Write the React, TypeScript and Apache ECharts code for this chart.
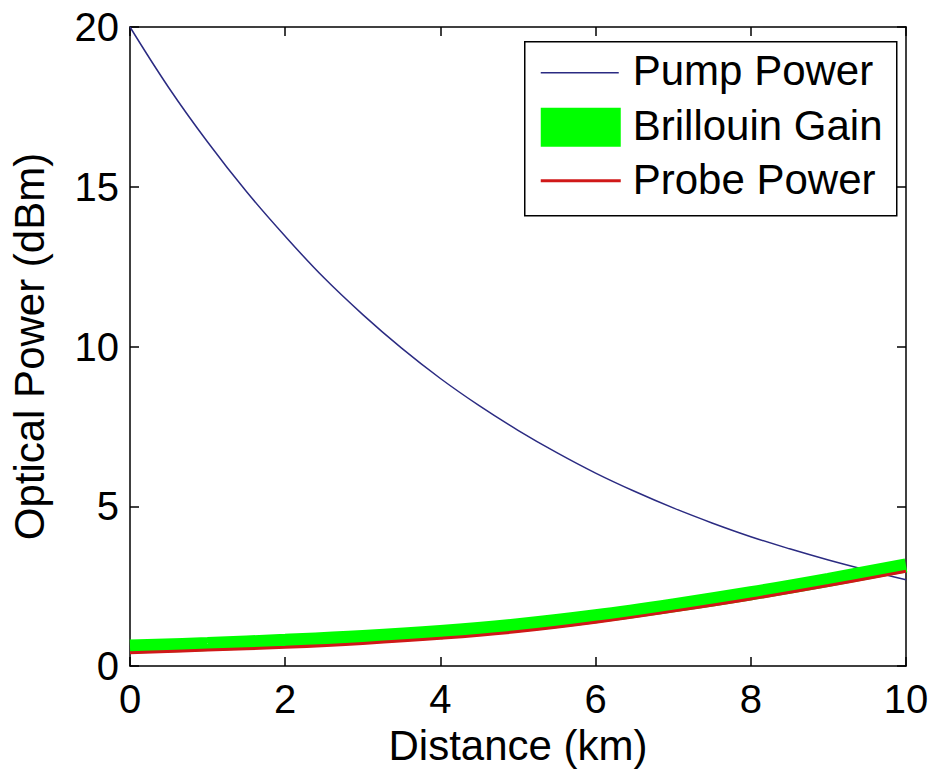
import React, { useEffect, useRef } from "react";
import * as echarts from "echarts";

const pumpDistanceKm = [0, 0.5, 1, 1.5, 2, 2.5, 3, 3.5, 4, 4.5, 5, 5.5, 6, 6.5, 7, 7.5, 8, 8.5, 9, 9.5, 10];
const pumpPowerDbm = [20, 18.1, 16.4, 14.85, 13.45, 12.15, 11.0, 9.95, 9.0, 8.15, 7.38, 6.68, 6.04, 5.47, 4.95, 4.48, 4.05, 3.67, 3.32, 3.0, 2.7];

const probeDistanceKm = [0, 1, 2, 3, 4, 5, 6, 7, 8, 9, 10];
const brillouinGainDbm = [0.61, 0.69, 0.79, 0.91, 1.07, 1.28, 1.56, 1.9, 2.28, 2.7, 3.15];
const probePowerDbm = [0.42, 0.5, 0.59, 0.71, 0.87, 1.08, 1.37, 1.72, 2.1, 2.52, 2.97];

const xTicks = { min: 0, max: 10, interval: 2 };
const yTicks = { min: 0, max: 20, interval: 5 };

const legendLabels = ["Pump Power", "Brillouin Gain", "Probe Power"];

const FONT = '"Liberation Sans", Arial, Helvetica, sans-serif';
const PUMP_COLOR = "#2b2b82";
const GAIN_COLOR = "#00ff00";
const PROBE_COLOR = "#d01818";

export default function App() {
  const ref = useRef<HTMLDivElement>(null);

  useEffect(() => {
    if (!ref.current) return;
    const chart = echarts.init(ref.current, undefined, { renderer: "svg" });

    const pair = (xs: number[], ys: number[]) => xs.map((x, i) => [x, ys[i]]);

    const axisLine = { show: true, onZero: false, lineStyle: { color: "#000", width: 1.5 } };
    const tickInside = { show: true, inside: true, length: 9, lineStyle: { color: "#000", width: 1.5 } };

    const option: any = {
      animation: false,
      backgroundColor: "#fff",
      textStyle: { fontFamily: FONT },
      grid: { left: 126, right: 27, top: 27, bottom: 104, containLabel: false },
      xAxis: [
        {
          type: "value",
          ...xTicks,
          position: "bottom",
          name: "Distance (km)",
          nameLocation: "middle",
          nameGap: 52,
          nameTextStyle: { fontSize: 42, color: "#000", fontFamily: FONT },
          axisLine,
          axisTick: tickInside,
          axisLabel: { fontSize: 40, color: "#000", margin: 13, fontFamily: FONT },
          splitLine: { show: false },
        },
        {
          type: "value",
          ...xTicks,
          position: "top",
          axisLine,
          axisTick: tickInside,
          axisLabel: { show: false },
          splitLine: { show: false },
        },
      ],
      yAxis: [
        {
          type: "value",
          ...yTicks,
          position: "left",
          name: "Optical Power (dBm)",
          nameLocation: "middle",
          nameGap: 80,
          nameTextStyle: { fontSize: 42, color: "#000", fontFamily: FONT },
          axisLine,
          axisTick: tickInside,
          axisLabel: { fontSize: 40, color: "#000", margin: 11, fontFamily: FONT },
          splitLine: { show: false },
        },
        {
          type: "value",
          ...yTicks,
          position: "right",
          axisLine,
          axisTick: tickInside,
          axisLabel: { show: false },
          splitLine: { show: false },
        },
      ],
      series: [
        {
          name: legendLabels[0],
          type: "line",
          data: pair(pumpDistanceKm, pumpPowerDbm),
          smooth: 0.4,
          showSymbol: false,
          lineStyle: { color: PUMP_COLOR, width: 1.5 },
          z: 2,
        },
        {
          name: legendLabels[1],
          type: "line",
          data: pair(probeDistanceKm, brillouinGainDbm),
          smooth: 0.4,
          showSymbol: false,
          lineStyle: { color: GAIN_COLOR, width: 14 },
          z: 3,
        },
        {
          name: legendLabels[2],
          type: "line",
          data: pair(probeDistanceKm, probePowerDbm),
          smooth: 0.4,
          showSymbol: false,
          lineStyle: { color: PROBE_COLOR, width: 3 },
          z: 4,
        },
      ],
      graphic: [
        {
          type: "group",
          left: 524,
          top: 41,
          children: [
            {
              type: "rect",
              shape: { x: 0, y: 0, width: 372, height: 174 },
              style: { fill: "#fff", stroke: "#000", lineWidth: 1.5 },
            },
            {
              type: "line",
              shape: { x1: 16, y1: 31, x2: 94, y2: 31 },
              style: { stroke: PUMP_COLOR, lineWidth: 1.5 },
            },
            {
              type: "rect",
              shape: { x: 16, y: 66, width: 80, height: 39 },
              style: { fill: GAIN_COLOR },
            },
            {
              type: "line",
              shape: { x1: 16, y1: 139, x2: 96, y2: 139 },
              style: { stroke: PROBE_COLOR, lineWidth: 3 },
            },
            {
              type: "text",
              x: 108,
              y: 29,
              style: { text: legendLabels[0], fontSize: 42, fontFamily: FONT, fill: "#000", verticalAlign: "middle" },
            },
            {
              type: "text",
              x: 108,
              y: 84,
              style: { text: legendLabels[1], fontSize: 42, fontFamily: FONT, fill: "#000", verticalAlign: "middle" },
            },
            {
              type: "text",
              x: 108,
              y: 138,
              style: { text: legendLabels[2], fontSize: 42, fontFamily: FONT, fill: "#000", verticalAlign: "middle" },
            },
          ],
        },
      ],
    };

    chart.setOption(option);
    return () => chart.dispose();
  }, []);

  return (
    <div
      ref={ref}
      style={{ position: "fixed", left: 0, top: 0, width: 933, height: 771, background: "#fff" }}
    />
  );
}
